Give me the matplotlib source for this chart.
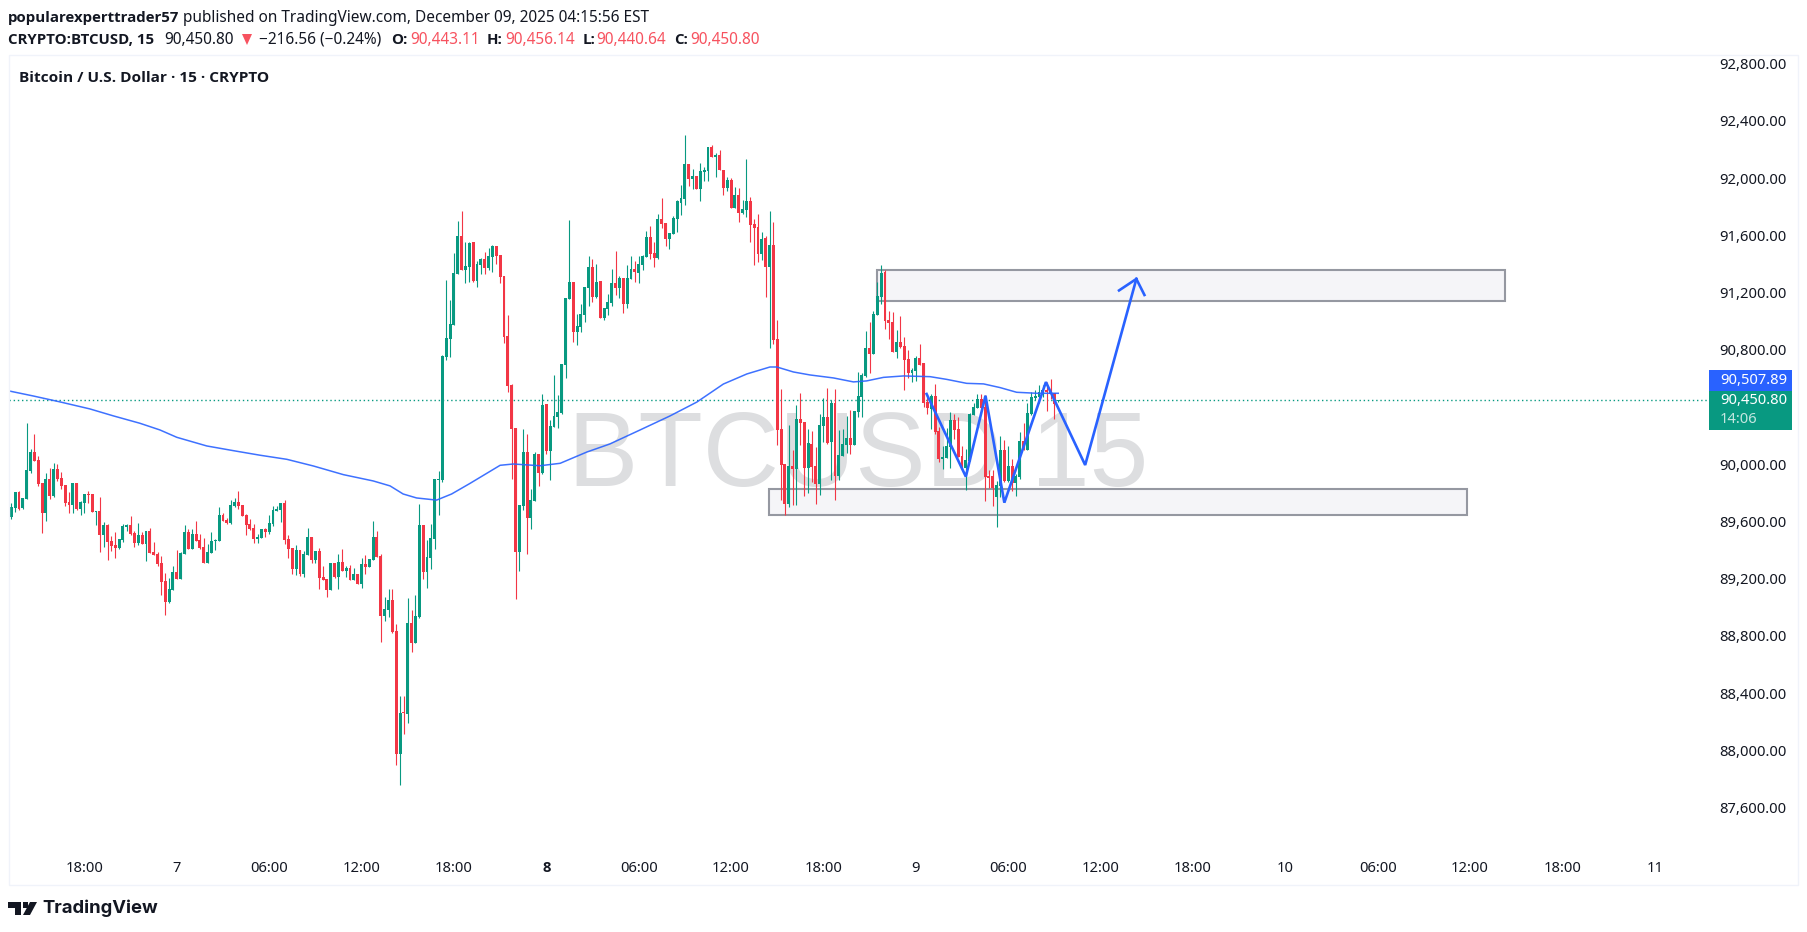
# coding:utf-8
import matplotlib
matplotlib.use("Agg")
import matplotlib.pyplot as plt
from matplotlib.patches import Rectangle, Polygon
from matplotlib.transforms import ScaledTranslation
import numpy as np

W, H = 1807, 932

# 15 minute candles
opens = [89629,89693,89808,89693,89758,89953,90087,90031,89869,89658,
         89897,89777,89967,89904,89855,89735,89714,89869,89686,89728,
         89791,89791,89665,89672,89503,89573,89460,89432,89411,89467,
         89559,89573,89517,89446,89503,89439,89531,89383,89369,89305,
         89179,89031,89115,89242,89193,89369,89524,89404,89510,89467,
         89418,89305,89376,89460,89460,89643,89608,89587,89707,89735,
         89714,89643,89580,89552,89474,89481,89545,89524,89580,89672,
         89679,89728,89474,89411,89263,89397,89228,89362,89489,89327,
         89390,89207,89193,89115,89305,89207,89313,89249,89270,89186,
         89228,89158,89298,89277,89327,89489,89355,88932,88975,89045,
         88827,87961,88256,88242,88883,88742,88925,89573,89242,89341,
         89474,89890,89889,90755,90882,90981,91340,91607,91368,91389,
         91565,91290,91403,91445,91382,91459,91537,91473,91326,90903,
         90558,90255,89382,89706,90086,89622,89741,90072,89939,90424,
         90093,90262,90333,90361,90699,91164,91283,90931,90967,91051,
         91241,91389,91178,91290,91030,91093,91136,91276,91241,91312,
         91128,91305,91375,91347,91403,91459,91600,91488,91452,91727,
         91699,91586,91621,91727,91840,91868,92114,92009,92030,91938,
         92058,92065,92234,92163,92178,92072,91945,92002,91804,91896,
         91769,91790,91854,91692,91671,91481,91593,91389,91544,90882,
         90249,90002,89721,89988,89967,90319,90298,89974,90143,89988,
         89861,90270,90333,90157,90432,89918,90059,90136,90185,90136,
         90368,90474,90622,90819,90777,91051,91178,91354,91016,91002,
         90791,90861,90833,90742,90643,90657,90749,90713,90439,90390,
         90481,90235,90037,90045,90122,90312,90249,90059,89974,90023,
         90347,90397,90460,90404,89918,89918,89770,89847,90101,89883,
         89988,89868,89911,90164,90101,90354,90467,90474,90502,90523,
         90516,90502,90443.11]
highs = [89728,89805,89812,89763,90291,90108,90214,90059,89869,89939,
         89974,90010,90003,89946,89855,89805,89869,89869,89742,89791,
         89812,89791,89672,89770,89594,89580,89496,89524,89474,89580,
         89580,89636,89531,89587,89524,89531,89552,89453,89383,89355,
         89235,89200,89284,89397,89383,89573,89545,89545,89601,89510,
         89481,89439,89524,89474,89700,89658,89622,89749,89763,89812,
         89714,89651,89615,89580,89510,89545,89552,89643,89707,89707,
         89728,89749,89503,89411,89432,89397,89390,89552,89489,89390,
         89411,89284,89193,89305,89305,89369,89404,89284,89291,89270,
         89228,89341,89362,89334,89601,89531,89369,89066,89122,89122,
         88876,88369,88369,89059,88975,89080,89721,89573,89467,89580,
         89897,89953,90769,91298,91157,91488,91713,91783,91565,91565,
         91565,91431,91452,91495,91523,91544,91537,91473,91326,91051,
         90565,90255,89713,90248,90213,89826,90086,90072,90495,90424,
         90312,90629,90488,90706,91171,91720,91283,91058,91128,91248,
         91466,91445,91410,91290,91100,91199,91375,91502,91326,91312,
         91403,91466,91431,91466,91473,91642,91678,91565,91762,91875,
         91699,91628,91748,91861,91966,92318,92114,92079,92030,92121,
         92093,92234,92248,92192,92213,92072,92023,92016,91952,91945,
         91861,92149,91882,91727,91762,91635,91607,91783,91706,91016,
         90530,90002,90277,90101,90418,90502,90298,90249,90235,90122,
         90354,90467,90537,90453,90530,90242,90249,90340,90382,90375,
         90650,90643,90939,91002,91080,91284,91403,91368,91080,91072,
         90946,91044,90896,90805,90678,90763,90847,90713,90495,90495,
         90566,90263,90129,90256,90368,90354,90333,90129,90108,90361,
         90432,90495,90495,90488,89960,89960,89883,90199,90171,90129,
         90037,89932,90227,90291,90432,90509,90523,90558,90558,90580,
         90601,90502,90456.14]
lows = [89615,89665,89679,89686,89758,89939,90024,89848,89517,89601,
        89756,89770,89883,89827,89707,89658,89658,89679,89643,89658,
        89728,89665,89573,89383,89418,89327,89390,89341,89404,89453,
        89531,89503,89418,89432,89439,89320,89376,89362,89284,89080,
        88939,89024,89115,89193,89193,89369,89404,89404,89460,89404,
        89305,89305,89376,89397,89460,89601,89580,89580,89700,89686,
        89636,89503,89538,89446,89446,89481,89489,89510,89566,89672,
        89594,89439,89341,89228,89221,89214,89207,89362,89305,89305,
        89122,89186,89066,89115,89200,89122,89249,89207,89186,89186,
        89158,89129,89228,89277,89327,89348,88749,88897,88925,88813,
        87883,87742,88101,88179,88679,88742,88918,89193,89129,89263,
        89404,89643,89875,90734,90755,90981,91340,91368,91276,91283,
        91283,91248,91340,91340,91368,91354,91410,91276,90854,90509,
        89896,89051,89248,89678,89368,89544,89741,89847,89932,90072,
        89889,90262,90255,90354,90607,91164,90861,90840,90931,91002,
        91114,91143,91171,91030,91016,91051,91114,91192,91171,91065,
        91100,91305,91283,91276,91368,91459,91445,91389,91445,91664,
        91537,91516,91621,91635,91755,91826,91959,91938,91938,91854,
        91994,91994,92163,92023,92072,91896,91924,91804,91804,91706,
        91762,91741,91565,91403,91424,91438,91178,90819,90847,90136,
        89749,89643,89700,89714,89714,90136,89777,89798,89875,89721,
        89784,90157,90143,89890,89749,89890,90059,90080,90073,90136,
        90333,90333,90615,90643,90777,91051,91129,90953,90882,90791,
        90749,90819,90523,90608,90580,90587,90699,90404,90354,90249,
        90213,90016,89967,90045,89974,90178,90052,89967,89819,90023,
        90347,90397,90397,89742,89833,89706,89559,89770,89875,89875,
        89812,89777,89897,90101,90101,90347,90453,90432,90474,90375,
        90460,90319,90440.64]
closes = [89700,89805,89686,89763,89960,90087,90024,89862,89658,89897,
          89777,89967,89897,89848,89728,89714,89869,89686,89735,89791,
          89784,89665,89672,89503,89573,89453,89425,89411,89474,89566,
          89573,89510,89446,89503,89439,89531,89376,89362,89298,89172,
          89031,89122,89242,89193,89376,89524,89404,89510,89460,89411,
          89305,89383,89460,89467,89643,89601,89587,89714,89735,89707,
          89636,89573,89545,89474,89489,89545,89524,89587,89679,89686,
          89728,89467,89404,89263,89397,89228,89369,89489,89327,89390,
          89200,89186,89115,89305,89207,89313,89249,89270,89186,89228,
          89158,89298,89277,89334,89489,89348,88932,88982,89045,88820,
          87961,88249,88249,88883,88742,88932,89573,89242,89348,89481,
          89897,89897,90762,90889,90988,91347,91607,91368,91396,91558,
          91290,91410,91445,91382,91466,91537,91466,91319,90896,90551,
          90248,89382,89713,90086,89622,89748,90072,89939,90417,90093,
          90269,90340,90368,90706,91171,91283,90931,90974,91058,91248,
          91389,91178,91283,91030,91100,91143,91276,91241,91312,91128,
          91312,91375,91354,91410,91466,91600,91481,91452,91727,91692,
          91586,91628,91734,91854,91875,92114,92009,92030,91938,92065,
          92072,92234,92163,92178,92072,91945,92002,91804,91896,91769,
          91797,91854,91685,91664,91481,91586,91389,91544,90875,90241,
          89995,89721,89988,89967,90319,90291,89974,90150,89981,89861,
          90277,90333,90150,90432,89918,90066,90143,90185,90136,90375,
          90481,90629,90819,90777,91058,91185,91347,91009,90995,90791,
          90861,90826,90734,90643,90664,90749,90699,90432,90397,90481,
          90227,90037,90052,90129,90312,90242,90052,89974,90030,90354,
          90404,90460,90397,89911,89904,89833,89854,90101,89883,89988,
          89868,89918,90164,90101,90361,90474,90481,90509,90523,90509,
          90495,90425,90450.80]

# moving average, as (bar, price)
ma_bars = [-0.7,5.7,12.7,20.4,26.5,33.4,38.6,43,50.8,57.7,64.6,71.6,78.5,86.3,94,98.4,101.8,105.3,
           110.5,114.4,119.2,127,130.4,137.4,142.6,149.5,155.5,163.3,171.1,178.1,185,191.1,197.1,
           198.9,203.2,207.5,213.6,218.8,222.2,226.6,231.8,238.7,243,248.2,252.6,256.9,261.2,266.4,272]
ma_prices = [90517,90481,90439,90390,90341,90289,90242,90190,90129,90096,90064,90035,89988,89927,89883,89848,89791,89763,
             89748,89791,89866,89993,90002,89990,90007,90086,90143,90241,90340,90438,90565,90636,90685,
             90685,90650,90629,90608,90580,90587,90612,90622,90617,90598,90570,90566,90540,90507,90500,90500]

# hand drawn path and the two zones
path_bars = [237.8,248.0,253.1,258.0,268.8,279.0,292.3]
path_prices = [90495,89913,90483,89730,90579,89995,91305]
arrow_bars = [287.8,292.3,294.4]
arrow_prices = [91224,91305,91192]
zone_bars = [(225.0,388.1),(196.9,378.2)]
zone_prices = [(91150,91368),(89643,89826)]

price_ticks = list(range(87600,92801,400))
time_bars = [19+24*i for i in range(18)]
time_labels = ["18:00","7","06:00","12:00","18:00","8","06:00","12:00","18:00","9",
               "06:00","12:00","18:00","10","06:00","12:00","18:00","11"]
last_price = 90450.80
ma_last = 90507.89

GREEN = "#089981"
RED = "#F23645"
BLUE = "#2962FF"
INK = "#131722"
FONT = "Noto Sans"
BOLD = "Open Sans"

def fx(x):
    return x/W

def fy(y):
    return 1-y/H

def label(x, y, s, **kw):
    kw.setdefault("fontsize", 11.1)
    kw.setdefault("color", INK)
    kw.setdefault("family", FONT)
    kw.setdefault("va", "center")
    fig.text(fx(x), fy(y), s, **kw)

def bold(x, y, s, **kw):
    label(x, y, s, family=BOLD, fontweight="bold", fontsize=kw.pop("fontsize", 10.85), **kw)

fig = plt.figure(figsize=(W/100, H/100), dpi=100, facecolor="white")
left, right, top, bottom = 8.5, 1708, 55, 885
ax = fig.add_axes([fx(left), fy(bottom), fx(right-left), (bottom-top)/H])
for s in ax.spines.values():
    s.set_visible(False)

bar_w = 3.849
ax.set_xlim((left-11.3)/bar_w, (right-11.3)/bar_w)
ax.set_ylim(90000+(464.3-bottom)*7.04, 90000+(464.3-top)*7.04)

# watermark
ax.text(fx(858), fy(458), "BTCUSD 15", transform=fig.transFigure, family="Liberation Sans", fontsize=76,
        color="#DDDEE0", ha="center", va="center", zorder=1)

for (b0, b1), (p0, p1) in zip(zone_bars, zone_prices):
    ax.add_patch(Rectangle((b0, p0), b1-b0, p1-p0, facecolor="#F5F5F8", edgecolor="#9598A1",
                           linewidth=1.5, zorder=2))

ax.axhline(last_price, color=GREEN, linewidth=1.0, linestyle=(0, (1, 2)), zorder=3)

o = np.array(opens)
h = np.array(highs)
l = np.array(lows)
c = np.array(closes)
x = np.arange(len(o))
colors = np.where(c >= o, GREEN, RED)
ax.vlines(x, l, h, colors=colors, linewidth=0.8, zorder=4)
ax.bar(x, np.maximum(np.abs(c-o), 7), bottom=np.minimum(o, c), width=0.76, color=colors, linewidth=0, zorder=5)

ax.plot(ma_bars, ma_prices, color=BLUE, linewidth=1.1, alpha=0.9, zorder=6)
ax.plot(path_bars, path_prices, color=BLUE, linewidth=1.9, solid_joinstyle="miter", zorder=7)
ax.plot(arrow_bars, arrow_prices, color=BLUE, linewidth=1.9, solid_joinstyle="miter", zorder=7)

# the scale labels sit a touch wider apart than the candles were read
tick_pos = 90000 + (np.array(price_ticks)-90000)*0.143/0.142
ax.yaxis.tick_right()
ax.set_yticks(tick_pos)
ax.set_yticklabels([f"{p:,.2f}" for p in price_ticks], family=FONT, fontsize=10.6, color=INK)
ax.tick_params(axis="y", length=0, pad=8)
ax.set_xticks(time_bars)
ax.set_xticklabels(time_labels, family=FONT, fontsize=10.6, color=INK)
ax.tick_params(axis="x", length=0, pad=0)
for t in ax.get_xticklabels():
    t.set_verticalalignment("center")
    t.set_transform(ax.get_xaxis_transform() + ScaledTranslation(0, 17/100, fig.dpi_scale_trans))
    if t.get_text() == "8":
        t.set_family(BOLD)
        t.set_fontweight("bold")

# pane frame
fig.add_artist(Rectangle((fx(left), fy(bottom)), fx(1798-left), (bottom-top)/H, transform=fig.transFigure,
                         fill=False, edgecolor="#F0F3FA", linewidth=1))

# price badges
fig.add_artist(Rectangle((fx(1709), fy(391)), fx(83), 21/H, transform=fig.transFigure, facecolor=BLUE, edgecolor="none"))
fig.add_artist(Rectangle((fx(1709), fy(430)), fx(83), 39/H, transform=fig.transFigure, facecolor=GREEN, edgecolor="none"))
label(1720, 380.5, f"{ma_last:,.2f}", color="white", fontsize=10.6)
label(1720, 401, f"{last_price:,.2f}", color="white", fontsize=10.6)
label(1720, 419.5, "14:06", color="#C4E6E0", fontsize=10.6)

# header
bold(8, 18, "popularexperttrader57")
label(183, 18, "published on TradingView.com, December 09, 2025 04:15:56 EST")
bold(8, 40, "CRYPTO:BTCUSD, 15")
label(164, 40, "90,450.80")
fig.add_artist(Polygon([(fx(242), fy(34)), (fx(252), fy(34)), (fx(247), fy(45))], closed=True,
                       transform=fig.transFigure, facecolor="#F7525F", edgecolor="none"))
label(259, 40, "−216.56 (−0.24%)")
for xa, a, xb, b in [(391, "O:", 410, "90,443.11"), (487, "H:", 505, "90,456.14"),
                     (583, "L:", 596, "90,440.64"), (674.5, "C:", 690, "90,450.80")]:
    bold(xa, 40, a)
    label(xb, 40, b, color="#F7525F")
bold(19, 78, "Bitcoin / U.S. Dollar · 15 · CRYPTO", fontsize=11.1)

# TradingView logo
logo = "#131722"
fig.add_artist(Polygon([(fx(8), fy(902)), (fx(21), fy(902)), (fx(21), fy(915)), (fx(14.5), fy(915)),
                        (fx(14.5), fy(908)), (fx(8), fy(908))], closed=True, transform=fig.transFigure,
                       facecolor=logo, edgecolor="none"))
fig.add_artist(Polygon([(fx(30), fy(902)), (fx(37), fy(902)), (fx(30), fy(915)), (fx(23), fy(915))], closed=True,
                       transform=fig.transFigure, facecolor=logo, edgecolor="none"))
fig.add_artist(Rectangle((fx(23), fy(908)), fx(5), 6/H, transform=fig.transFigure, facecolor=logo, edgecolor="none"))
label(42, 908, "TradingView", fontsize=13.3, fontweight="bold", family="Inter", color=logo)

fig.savefig("out.png", dpi=100)
